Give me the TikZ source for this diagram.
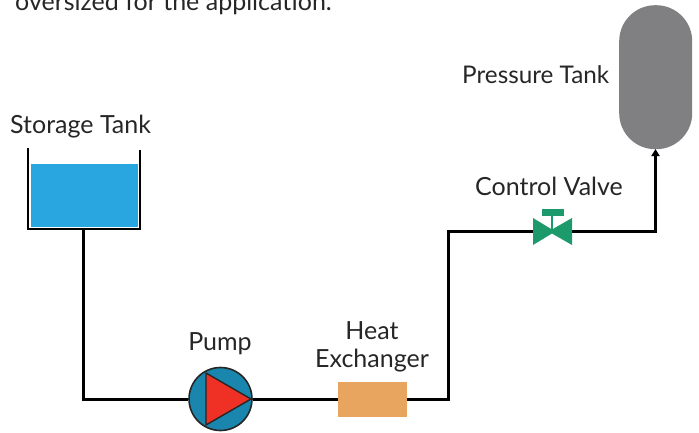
\documentclass[tikz,border=0pt]{standalone}
\usepackage{fontspec}
\setmainfont{Lato}
\usetikzlibrary{arrows.meta}
\definecolor{water}{HTML}{29A6E0}
\definecolor{pumpblue}{HTML}{1A86AE}
\definecolor{pumpred}{HTML}{EE3124}
\definecolor{valvegreen}{HTML}{1C9A6C}
\definecolor{hxorange}{HTML}{E8A55F}
\definecolor{tankgrey}{HTML}{808082}
\definecolor{txt}{HTML}{262626}
\tikzset{
  pipe/.style={draw=black,line width=3pt,line join=miter},
  wall/.style={draw=black,line width=2.8pt},
  lbl/.style={text=txt,font=\fontsize{25}{30}\selectfont,inner sep=0pt,align=center},
}
\begin{document}
\begin{tikzpicture}[x=1pt,y=-1pt]
\useasboundingbox (0,0) rectangle (699,432);
\clip (0,0) rectangle (699,432);
% clipped caption
\node[lbl,anchor=base west] (cap) at (15,10) {oversized for the application.};
% storage tank
\node[fill=water,minimum width=107pt,minimum height=63pt,inner sep=0pt,anchor=north west] (water) at (31,164) {};
\coordinate (tl) at (28,148);
\coordinate (tr) at (140,150);
\coordinate (bl) at (28,229);
\coordinate (br) at (140,229);
\draw[wall,line join=miter] (tl) -- (bl) -- (br) -- (tr);
\coordinate (tankout) at (83.5,229);
% pump
\node[circle,draw=black!85,line width=1.6pt,fill=pumpblue,minimum size=63pt,inner sep=0pt] (pump) at (220.5,399) {};
% heat exchanger
\node[fill=hxorange,minimum width=69pt,minimum height=35pt,inner sep=0pt,anchor=north west] (hx) at (338,382) {};
% valve
\coordinate (valve) at (552,231.5);
\coordinate (vl) at (533,231.5);
\coordinate (vr) at (572,231.5);
% pressure tank
\node[fill=tankgrey,rounded corners=36pt,minimum width=73pt,minimum height=144pt,inner sep=0pt,anchor=north west] (ptank) at (619,5) {};
% pipes
\coordinate (c1) at (83.5,399);
\coordinate (c2) at (448,399);
\coordinate (c3) at (448,231.5);
\coordinate (c4) at (655.5,231.5);
\coordinate (c5) at (655.5,149);
\draw[pipe] (tankout) -- (c1) -- (pump.west);
\draw[pipe] (pump.east) -- (hx.west |- pump.east);
\draw[pipe] (hx.east |- pump.east) -- (c2) -- (c3) -- (vl);
\draw[pipe,-{Triangle[length=7pt,width=8pt]}] (vr) -- (c4) -- (c5);
% pump triangle
\draw[fill=pumpred,draw=black!85,line width=1.4pt,line join=round] (206,373) -- (251,399) -- (206,425) -- cycle;
% valve glyph
\fill[valvegreen] (533,218) -- (552,229.5) -- (572,218) -- (572,245) -- (552,233.5) -- (533,245) -- cycle;
\draw[valvegreen,line width=2.4pt] (552,231) -- (552,214);
\fill[valvegreen] (542,209) rectangle (564,216);
% labels
\node[lbl,anchor=base west] (l1) at (10,133) {Storage Tank};
\node[lbl,anchor=base west,font=\fontsize{24.3}{29}\selectfont] (l2) at (462,83) {Pressure Tank};
\node[lbl,anchor=base west] (l3) at (475,195) {Control Valve};
\node[lbl,anchor=base] (l4) at (220,350) {Pump};
\node[lbl,anchor=base] (l5) at (372,339) {Heat};
\node[lbl,anchor=base] (l6) at (372,367) {Exchanger};
\end{tikzpicture}
\end{document}
